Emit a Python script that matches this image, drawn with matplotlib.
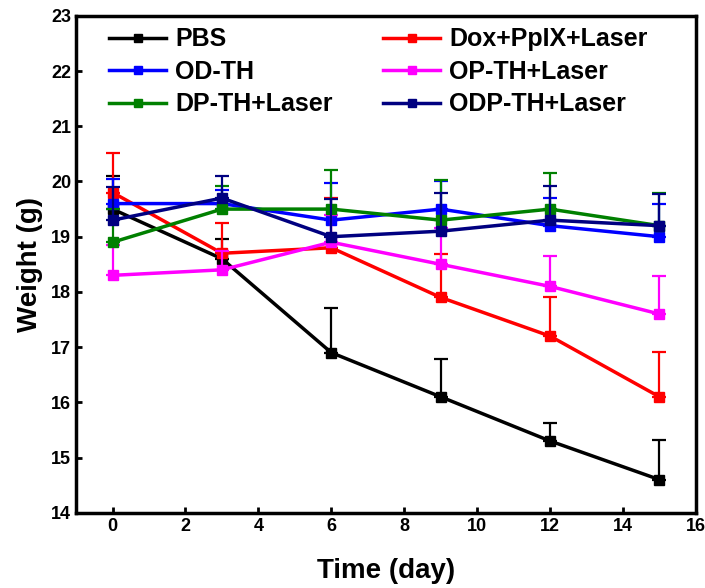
import numpy as np
import matplotlib
matplotlib.use("Agg")
import matplotlib.pyplot as plt

plt.rcParams['font.family'] = ['Liberation Sans', 'DejaVu Sans']
plt.rcParams['font.weight'] = 'bold'

days = [0, 3, 6, 9, 12, 15]

# mean body weight (g) and upper error (g) per group
pbs = [19.5, 18.6, 16.9, 16.1, 15.3, 14.6]
pbs_err = [0.6, 0.35, 0.8, 0.68, 0.33, 0.72]
dox = [19.8, 18.7, 18.8, 17.9, 17.2, 16.1]
dox_err = [0.72, 0.55, 0.9, 0.78, 0.7, 0.82]
odth = [19.6, 19.6, 19.3, 19.5, 19.2, 19.0]
odth_err = [0.45, 0.25, 0.68, 0.5, 0.5, 0.6]
opth = [18.3, 18.4, 18.9, 18.5, 18.1, 17.6]
opth_err = [0.55, 0.35, 0.5, 0.65, 0.55, 0.68]
dpth = [18.9, 19.5, 19.5, 19.3, 19.5, 19.2]
dpth_err = [0.6, 0.42, 0.7, 0.73, 0.65, 0.6]
odpth = [19.3, 19.7, 19.0, 19.1, 19.3, 19.2]
odpth_err = [0.6, 0.4, 0.68, 0.7, 0.62, 0.57]

labels = ['PBS', 'Dox+PpIX+Laser', 'OD-TH', 'OP-TH+Laser', 'DP-TH+Laser', 'ODP-TH+Laser']
colors = ['black', '#ff0000', '#0000ff', '#ff00ff', '#008000', '#000080']
means = [pbs, dox, odth, opth, dpth, odpth]
errs = [pbs_err, dox_err, odth_err, opth_err, dpth_err, odpth_err]

fig = plt.figure(figsize=(7.05, 5.88), dpi=100)
ax = fig.add_axes([0.108, 0.128, 0.879, 0.845])

handles = {}
for lab, col, m, e in zip(labels, colors, means, errs):
    ax.errorbar(days, m, yerr=[np.zeros(len(e)), e], fmt='none', ecolor=col,
                elinewidth=1.6, capsize=5, capthick=1.6)
    h, = ax.plot(days, m, '-s', color=col, lw=2.5, ms=7, label=lab)
    handles[lab] = h

order = ['PBS', 'OD-TH', 'DP-TH+Laser', 'Dox+PpIX+Laser', 'OP-TH+Laser', 'ODP-TH+Laser']
ax.legend([handles[k] for k in order], order, ncol=2, frameon=False,
          loc='upper left', bbox_to_anchor=(0.053, 0.977), borderaxespad=0,
          borderpad=0, columnspacing=2.0, handlelength=2.3, handletextpad=0.36,
          labelspacing=0.34, prop={'weight': 'bold', 'size': 18}, markerscale=0.8)

ax.set_xlim(-1, 16)
ax.set_ylim(14, 23)
ax.set_xticks(range(0, 17, 2))
ax.set_yticks(range(14, 24))
ax.tick_params(direction='in', length=4, width=2, labelsize=13, top=False, right=False)
for lbl in ax.get_xticklabels() + ax.get_yticklabels():
    lbl.set_fontweight('bold')
for s in ax.spines.values():
    s.set_linewidth(2.5)

ax.set_xlabel('Time (day)', fontsize=20, fontweight='bold', labelpad=17)
ax.set_ylabel('Weight (g)', fontsize=20, fontweight='bold', labelpad=6)

fig.savefig('out.png', dpi=100)
